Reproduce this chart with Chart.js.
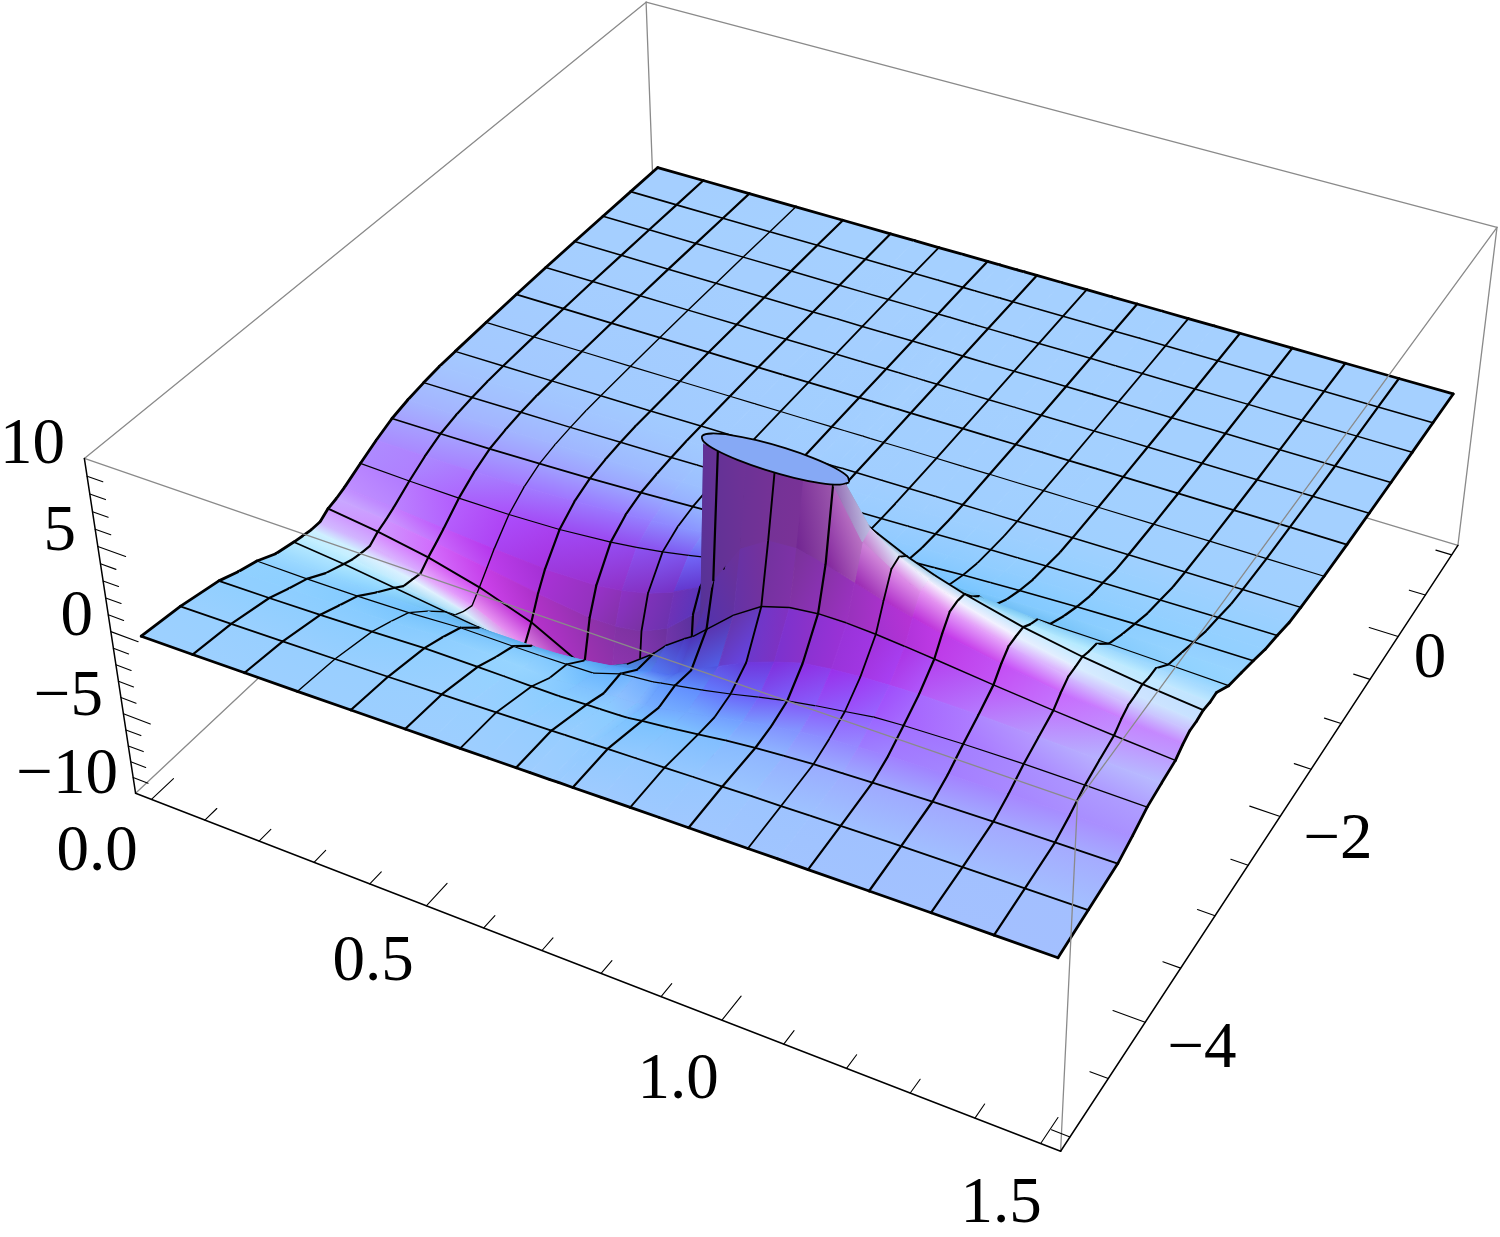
<!DOCTYPE html>
<html><head><meta charset="utf-8">
<style>html,body{margin:0;padding:0;background:#fff}canvas{display:block}</style>
<script src="https://cdn.jsdelivr.net/npm/chart.js@4"></script>
</head><body>
<canvas id="c" width="1500" height="1237"></canvas>
<script>
// Surface nodes, in mesh-cell units (16 cells across x in 0..1.5 and y in -5..1).
const xGrid = [0,1,2,3,4,5,5.5,6,6.5,7,7.25,7.6,7.75,8,8.5,9,9.5,10,10.5,11,11.5,12,13,14,15,16];
const yGrid = [0,1,2,2.5,3,3.5,4,4.25,4.5,4.75,5,5.25,5.5,6,6.5,7,7.5,8,8.5,9,10,11,12,13,14,15,16];
// Surface heights, one row per yGrid entry.
const zRow00 = [-.68,-.65,-.6,-.56,-.5,-.45,-.42,-.4,-.37,-.34,-.32,-.31,-.29,-.28,-.25,-.22,-.19,-.16,-.14,-.11,-.08,-.06,-.01,.04,.07,.11];
const zRow01 = [-.94,-.89,-.82,-.75,-.67,-.57,-.52,-.47,-.42,-.37,-.34,-.31,-.29,-.26,-.21,-.16,-.1,-.05,0,.04,.09,.13,.21,.27,.33,.38];
const zRow02 = [-1.42,-1.37,-1.29,-1.19,-1.06,-1.05,-1.06,-1.07,-1.08,-1,-.98,-.95,-.92,-.8,-.62,-.42,-.2,-.03,.1,.22,.29,.36,.47,.55,.61,.65];
const zRow03 = [-1.86,-1.82,-1.75,-1.62,-1.45,-1.52,-1.58,-1.64,-1.5,-1.4,-1.35,-1.3,-1.25,-1.1,-.8,-.5,-.15,.15,.4,.59,.7,.78,.92,1.01,1.05,1.07];
const zRow04 = [-2.2,-2.22,-2.19,-2.1,-1.91,-1.91,-1.91,-1.88,-1.83,-1.3,-1.2,-1.1,-1,-.85,-.55,-.2,.2,.55,.85,1.1,1.36,1.46,1.57,1.62,1.61,1.57];
const zRow05 = [-2.74,-2.87,-2.98,-3.03,-2.94,-2.93,-2.86,-2.7,-2.45,-2.12,-1.94,-1.75,-1.47,-1,-.2,.6,1.2,1.7,1.92,2.05,2.13,2.18,2.16,2.07,1.95,1.8];
const zRow06 = [-3,-3.3,-3.7,-4.1,-4.5,-4.7,-4.6,-4.2,-3.4,-2.2,-1.4,-.6,-.3,.4,1.8,2.86,3.35,3.55,3.56,3.47,3.33,3.17,2.82,2.51,2.24,2];
const zRow07 = [-3.1,-3.5,-4.1,-4.8,-5.7,-6.8,-7.3,-7.6,-7.1,-5,-3.3,-1.2,.3,2.8,5.2,6.2,6.3,5.9,5.4,4.9,4.5,4.1,3.5,3,2.65,2.35];
const zRow08 = [-3.2,-3.6,-4.2,-5.1,-6.5,-8.8,-10,-10,-10,-10,-10,-7,10,10,10,10,10,10,7.2,6.2,5.45,4.86,4,3.38,2.93,2.6];
const zRow09 = [-3.2,-3.65,-4.3,-5.25,-6.7,-9.2,-10,-10,-10,-10,-10,-10,10,10,10,10,10,10,7.5,6.4,5.6,4.95,4.04,3.41,2.95,2.6];
const zRow10 = [-2.85,-3.25,-3.8,-4.6,-5.7,-7.4,-8.4,-9.4,-9.6,-7.6,-5.2,-1.9,1.7,5.19,9.08,9.78,9.21,7.5,6.7,5.95,5.35,4.85,4.05,3.47,3.03,2.7];
const zRow11 = [-2.7,-3,-3.4,-3.9,-4.4,-4.8,-4.8,-4.55,-3.8,-2.4,-1.5,-.5,.54,1.71,3.6,4.77,5.34,5.04,4.94,4.72,4.45,4.2,3.69,3.27,2.9,2.6];
const zRow12 = [-2.48,-2.7,-2.97,-3.2,-3.37,-3.3,-3.08,-2.7,-2.07,-1.24,-.77,-.26,.27,.86,1.9,2.71,3.29,3.64,3.81,3.85,3.81,3.71,3.45,3.16,2.89,2.64];
const zRow13 = [-1.92,-2,-2.04,-2.02,-1.9,-1.62,-1.41,-1.15,-.83,-.48,-.29,-.1,.09,.3,.7,1.05,1.35,1.6,1.8,1.95,2.06,2.12,2.16,2.13,2.05,1.96];
const zRow14 = [-1.4,-1.39,-1.35,-1.26,-1.11,-.89,-.75,-.59,-.42,-.24,-.14,-.05,.06,.17,.39,.6,.8,.97,1.13,1.26,1.37,1.46,1.59,1.64,1.66,1.64];
const zRow15 = [-.95,-.91,-.85,-.76,-.65,-.5,-.42,-.33,-.23,-.13,-.08,-.03,.03,.1,.25,.37,.5,.63,.73,.84,.92,1,1.13,1.22,1.27,1.3];
const zRow16 = [-.68,-.64,-.59,-.51,-.43,-.33,-.27,-.21,-.14,-.08,-.05,-.02,.02,.06,.15,.23,.31,.38,.46,.53,.59,.65,.75,.82,.88,.92];
const zRow17 = [-.5,-.46,-.41,-.36,-.29,-.22,-.18,-.14,-.1,-.05,-.04,-.01,.02,.04,.1,.15,.21,.26,.32,.37,.41,.46,.54,.6,.65,.7];
const zRow18 = [-.36,-.34,-.3,-.25,-.2,-.15,-.13,-.1,-.07,-.04,-.02,-.01,.01,.02,.05,.09,.12,.15,.18,.21,.24,.26,.31,.35,.39,.42];
const zRow19 = [-.3,-.27,-.24,-.2,-.17,-.12,-.1,-.08,-.05,-.03,-.02,-.01,.01,.02,.04,.07,.09,.11,.13,.15,.17,.19,.23,.26,.29,.32];
const zRow20 = [-.2,-.18,-.16,-.14,-.11,-.08,-.07,-.05,-.04,-.02,-.01,0,0,.01,.03,.04,.05,.07,.08,.09,.1,.11,.13,.15,.16,.17];
const zRow21 = [-.12,-.11,-.1,-.08,-.06,-.05,-.04,-.03,-.02,-.01,0,0,0,0,.01,.02,.03,.04,.05,.05,.06,.07,.08,.09,.1,.1];
const zRow22 = [-.07,-.06,-.06,-.05,-.04,-.03,-.02,-.02,-.01,-.01,0,0,0,0,.01,.01,.02,.02,.03,.03,.04,.04,.05,.05,.06,.06];
const zRow23 = [-.04,-.04,-.03,-.03,-.02,-.02,-.01,-.01,-.01,0,0,0,0,0,0,.01,.01,.01,.02,.02,.02,.02,.03,.03,.03,.04];
const zRow24 = [-.02,-.02,-.02,-.01,-.01,-.01,-.01,0,0,0,0,0,0,0,0,0,.01,.01,.01,.01,.01,.01,.02,.02,.02,.02];
const zRow25 = [-.01,-.01,-.01,-.01,0,0,0,0,0,0,0,0,0,0,0,0,0,0,.01,.01,.01,.01,.01,.01,.01,.01];
const zRow26 = [0,0,0,0,0,0,0,0,0,0,0,0,0,0,0,0,0,0,0,0,0,0,0,0,0,0];
const zRows = [zRow00,zRow01,zRow02,zRow03,zRow04,zRow05,zRow06,zRow07,zRow08,zRow09,zRow10,zRow11,zRow12,zRow13,zRow14,zRow15,zRow16,zRow17,zRow18,zRow19,zRow20,zRow21,zRow22,zRow23,zRow24,zRow25,zRow26];
// Clipped top of the peak (z = 10).
const capX = [.955,.946,.92,.881,.835,.789,.75,.724,.715,.724,.75,.789,.835,.881,.92,.946];
const capY = [-3.25,-3.204,-3.165,-3.139,-3.13,-3.139,-3.165,-3.204,-3.25,-3.296,-3.335,-3.361,-3.37,-3.361,-3.335,-3.296];
// Ticks and their labels.
const xMinor = [0,.1,.2,.3,.4,.5,.6,.7,.8,.9,1,1.1,1.2,1.3,1.4,1.5];
const xMajor = [0,.5,1,1.5];
const yMinor = [-5,-4.5,-4,-3.5,-3,-2.5,-2,-1.5,-1,-.5,0,.5,1];
const yMajor = [-4,-2,0];
const zMinor = [-10,-9,-8,-7,-6,-5,-4,-3,-2,-1,0,1,2,3,4,5,6,7,8,9,10];
const zMajor = [-10,-5,0,5,10];
const zLabels = ['\u221210','\u22125','0','5','10'];
const xLabels = ['0.0','0.5','1.0','1.5'];
const yLabels = ['\u22124','\u22122','0'];
// Mesh line weights per line index (0..16).
const xMeshWeight = [2.8,2.2,2.2,1.4,2.2,2.2,1.8,2.2,2.2,1.9,2.2,1.8,2.2,2.3,2.2,2.2,2.8];
const yMeshWeight = [2.8,1.8,1.8,1.2,1.5,1.9,1.2,1.7,1.5,1.5,1.2,1.8,1.5,1.6,1.5,1.6,2.8];

// Text placement (canvas units) and camera calibration.
const zLabelAt = [[118,793],[103,715],[93,635],[76,550],[65,463]];
const xLabelAt = [[97,870],[373,980],[678,1098],[1001,1222]];
const yLabelAt = [[1202,1067],[1338,858],[1430,677]];
const boxCorners = [[0,0,1,84,459],[1,0,1,1078,800],[1,1,1,1497,228],[0,1,1,646,2],[0,0,0,136,793],[1,0,0,1060,1152],[1,1,0,1458,545]];
const xRange=[-.03,1.53], yRange=[-5.12,1.12], zRange=[-10,10];
const surfaceLift = 0.1;

function solve(A,b){const n=b.length;for(let i=0;i<n;i++){let m=i;for(let r=i+1;r<n;r++)if(Math.abs(A[r][i])>Math.abs(A[m][i]))m=r;[A[i],A[m]]=[A[m],A[i]];[b[i],b[m]]=[b[m],b[i]];for(let r=i+1;r<n;r++){const f=A[r][i]/A[i][i];for(let c=i;c<n;c++)A[r][c]-=f*A[i][c];b[r]-=f*b[i];}}const x=new Array(n).fill(0);for(let i=n-1;i>=0;i--){let s=b[i];for(let c=i+1;c<n;c++)s-=A[i][c]*x[c];x[i]=s/A[i][i];}return x;}
const cam=(()=>{const rows=[],rhs=[];for(const [X,Y,Z,u,v] of boxCorners){rows.push([X,Y,Z,1,0,0,0,0,-u*X,-u*Y,-u*Z]);rhs.push(u);rows.push([0,0,0,0,X,Y,Z,1,-v*X,-v*Y,-v*Z]);rhs.push(v);}
 const N=Array.from({length:11},()=>new Array(11).fill(0)),r=new Array(11).fill(0);rows.forEach((R,k)=>{for(let i=0;i<11;i++){r[i]+=R[i]*rhs[k];for(let j=0;j<11;j++)N[i][j]+=R[i]*R[j];}});return solve(N,r);})();
function project(x,y,z){const U=(x-xRange[0])/(xRange[1]-xRange[0]),V=(y-yRange[0])/(yRange[1]-yRange[0]),H=(z-zRange[0])/(zRange[1]-zRange[0]);const w=cam[8]*U+cam[9]*V+cam[10]*H+1;return {x:(cam[0]*U+cam[1]*V+cam[2]*H+cam[3])/w,y:(cam[4]*U+cam[5]*V+cam[6]*H+cam[7])/w,w};}
const dataX=i=>i*1.5/16, dataY=j=>-5+j*6/16;
const zAt=(c,r)=>Math.max(-10,Math.min(10,zRows[r][c]+surfaceLift));
const node=(c,r)=>project(dataX(xGrid[c]),dataY(yGrid[r]),zAt(c,r));
const cols=xGrid.length, rowsN=yGrid.length;
// per-cell lighting from the cell's own slope
function cellLight(c,r){
 const dx=(dataX(xGrid[c+1])-dataX(xGrid[c]))/1.56, dy=(dataY(yGrid[r+1])-dataY(yGrid[r]))/6.24;
 const k=0.4/20;
 const p=((zAt(c+1,r)+zAt(c+1,r+1)-zAt(c,r)-zAt(c,r+1))/2)*k/dx;
 const q=((zAt(c,r+1)+zAt(c+1,r+1)-zAt(c,r)-zAt(c+1,r))/2)*k/dy;
 const w=1/Math.sqrt(1+p*p+q*q), t=-p*w, s=q*w;
 const R=Math.max(75,165*w+(t>0?330:250)*t*w+(s>0?20*s+70*s*s:50*s));
 const G=Math.max(50,Math.min(240,208*w+(t>0?250:120)*t*w-(s>0?150*s+80*s*s:30*s)));
 const B=Math.max(150,110+170*w+30*t);
 const zs=[zAt(c,r),zAt(c+1,r),zAt(c,r+1),zAt(c+1,r+1)];
 const flatClip=zs.every(z=>z>=10)||zs.every(z=>z<=-10);
 return {rgb:[R,G,B].map(v=>Math.max(0,Math.min(255,v))),skip:flatClip||Math.abs(p)>2.5};
}
const light=[];for(let r=0;r<rowsN-1;r++){light.push([]);for(let c=0;c<cols-1;c++)light[r].push(cellLight(c,r));}
function nodeRGB(c,r){let n=0,acc=[0,0,0];for(const [cc,rr] of [[c-1,r-1],[c,r-1],[c-1,r],[c,r]]){if(cc<0||rr<0||cc>=cols-1||rr>=rowsN-1)continue;const L=light[rr][cc];if(L.skip)continue;acc=acc.map((v,i)=>v+L.rgb[i]);n++;}return n?acc.map(v=>v/n):null;}
const css=a=>`rgb(${Math.round(a[0])},${Math.round(a[1])},${Math.round(a[2])})`;
const g2d=document.getElementById('c').getContext('2d');
// one linear gradient per cell, fitted through the colours at its four corners
function cellPaint(k){
 const {c,r,a,b,d,e}=k,L=light[r][c];
 if(L.skip)return css(L.rgb);
 const pts=[a,b,d,e],colsRGB=[nodeRGB(c,r)||L.rgb,nodeRGB(c+1,r)||L.rgb,nodeRGB(c+1,r+1)||L.rgb,nodeRGB(c,r+1)||L.rgb];
 const mx=pts.reduce((s,p)=>s+p.x,0)/4,my=pts.reduce((s,p)=>s+p.y,0)/4;
 const S=colsRGB.map(v=>v[0]+v[1]),ms=S.reduce((x,y)=>x+y,0)/4;
 let xx=0,xy=0,yy=0,xs=0,ys=0;pts.forEach((p,i)=>{const X=p.x-mx,Y=p.y-my,V=S[i]-ms;xx+=X*X;xy+=X*Y;yy+=Y*Y;xs+=X*V;ys+=Y*V;});
 const det=xx*yy-xy*xy;
 let gx=0,gy=0;if(Math.abs(det)>1e-6){gx=(xs*yy-ys*xy)/det;gy=(ys*xx-xs*xy)/det;}
 const mg=Math.hypot(gx,gy);
 if(mg<1e-4)return css(colsRGB.reduce((A,v)=>A.map((x,i)=>x+v[i]/4),[0,0,0]));
 gx/=mg;gy/=mg;
 const tau=pts.map(p=>(p.x-mx)*gx+(p.y-my)*gy),t0=Math.min(...tau),t1=Math.max(...tau);
 const tt=tau.reduce((s,x)=>s+x*x,0)||1;
 const at=T=>[0,1,2].map(ch=>{const m=colsRGB.reduce((s,v)=>s+v[ch],0)/4,sl=tau.reduce((s,x,i)=>s+x*(colsRGB[i][ch]-m),0)/tt;return Math.max(0,Math.min(255,m+sl*T));});
 const gr=g2d.createLinearGradient(mx+gx*t0,my+gy*t0,mx+gx*t1,my+gy*t1);
 gr.addColorStop(0,css(at(t0)));gr.addColorStop(1,css(at(t1)));
 return gr;
}
const line=(a,b,color,width)=>({data:[{x:a.x,y:a.y},{x:b.x,y:b.y}],showLine:true,borderColor:color,borderWidth:width,pointRadius:0,fill:false,clip:false,borderCapStyle:'round'});
const P=(U,V,Z)=>project(xRange[U],yRange[V],Z);
const GRAY='#8a8a8a', GW=1.3;
const seq=[];
// back box edges
seq.push(line(P(0,0,10),P(0,1,10),GRAY,GW),line(P(0,1,10),P(1,1,10),GRAY,GW),line(P(1,1,10),P(1,1,-10),GRAY,GW),line(P(0,1,10),P(0,1,-10),GRAY,GW),line(P(0,0,-10),P(0,1,-10),GRAY,GW),line(P(1,1,-10),P(0,1,-10),GRAY,GW));
// surface cells, far to near
const cells=[];
for(let r=0;r<rowsN-1;r++)for(let c=0;c<cols-1;c++){
 const a=node(c,r),b=node(c+1,r),d=node(c+1,r+1),e=node(c,r+1);
 cells.push({c,r,a,b,d,e,w:(a.w+b.w+d.w+e.w)/4});
}
cells.sort((p,q)=>q.w-p.w);
const rank=new Map();cells.forEach((k,i)=>rank.set(k.c+','+k.r,i));
const isLast=(i,c2,r2)=>{const o=rank.get(c2+','+r2);return o===undefined||o<i;};
cells.forEach((k,i)=>{
 const {c,r,a,b,d,e}=k,paint=cellPaint(k);
 seq.push({data:[a,b,d,e,a].map(p=>({x:p.x,y:p.y})),showLine:true,fill:'shape',backgroundColor:paint,borderColor:paint,borderWidth:.9,pointRadius:0,clip:false});
 const mesh=v=>Number.isInteger(v);
 if(mesh(yGrid[r])&&isLast(i,c,r-1))seq.push(line(a,b,'#000',yMeshWeight[yGrid[r]]));
 if(mesh(yGrid[r+1])&&isLast(i,c,r+1))seq.push(line(e,d,'#000',yMeshWeight[yGrid[r+1]]));
 if(mesh(xGrid[c])&&isLast(i,c-1,r))seq.push(line(a,e,'#000',xMeshWeight[xGrid[c]]));
 if(mesh(xGrid[c+1])&&isLast(i,c+1,r))seq.push(line(b,d,'#000',xMeshWeight[xGrid[c+1]]));
});
// clipped top
const capPts=capX.map((x,i)=>project(x,capY[i],10)).map(p=>({x:p.x,y:p.y}));
capPts.push(capPts[0]);
seq.push({data:capPts,showLine:true,fill:'shape',backgroundColor:'#86a9f5',borderColor:'#000',borderWidth:1.8,pointRadius:0,clip:false,tension:.35});
// front box edges pass over the surface
seq.push(line(P(0,0,10),P(1,0,10),GRAY,GW),line(P(1,0,10),P(1,1,10),GRAY,GW),line(P(1,0,10),P(1,0,-10),GRAY,GW));
// axes
seq.push(line(P(0,0,10),P(0,0,-10),'#000',1.5),line(P(0,0,-10),P(1,0,-10),'#000',1.5),line(P(1,0,-10),P(1,1,-10),'#000',1.5));
xMinor.forEach(x=>{const L=xMajor.includes(x)?.22:.12;seq.push(line(project(x,yRange[0],-10),project(x,yRange[0]+L,-10),'#000',1.1));});
yMinor.forEach(y=>{const L=yMajor.includes(y)?.05:.028;seq.push(line(project(xRange[1],y,-10),project(xRange[1]-L,y,-10),'#000',1.1));});
zMinor.forEach(z=>{if(z===10||z===-10)return;const L=zMajor.includes(z)?.05:.028;seq.push(line(project(xRange[0],yRange[0],z),project(xRange[0]+L,yRange[0],z),'#000',1.1));});

const textPlugin={id:'boxLabels',afterDraw(ch){const g=ch.ctx,sx=ch.scales.x,sy=ch.scales.y;g.save();g.fillStyle='#000';g.font='65px "Liberation Serif"';g.textBaseline='alphabetic';
 const put=(labels,at,align)=>{g.textAlign=align;labels.forEach((t,i)=>g.fillText(t,sx.getPixelForValue(at[i][0]),sy.getPixelForValue(at[i][1])));};
 put(zLabels,zLabelAt,'right');put(xLabels,xLabelAt,'center');put(yLabels,yLabelAt,'center');g.restore();}};

new Chart(document.getElementById('c'),{type:'scatter',data:{datasets:seq.reverse()},plugins:[textPlugin],
 options:{responsive:false,animation:false,events:[],layout:{padding:0},
  plugins:{legend:{display:false},tooltip:{enabled:false},title:{display:false}},
  scales:{x:{type:'linear',min:0,max:1500,display:false},y:{type:'linear',min:0,max:1237,reverse:true,display:false}}}});
</script>
</body></html>
